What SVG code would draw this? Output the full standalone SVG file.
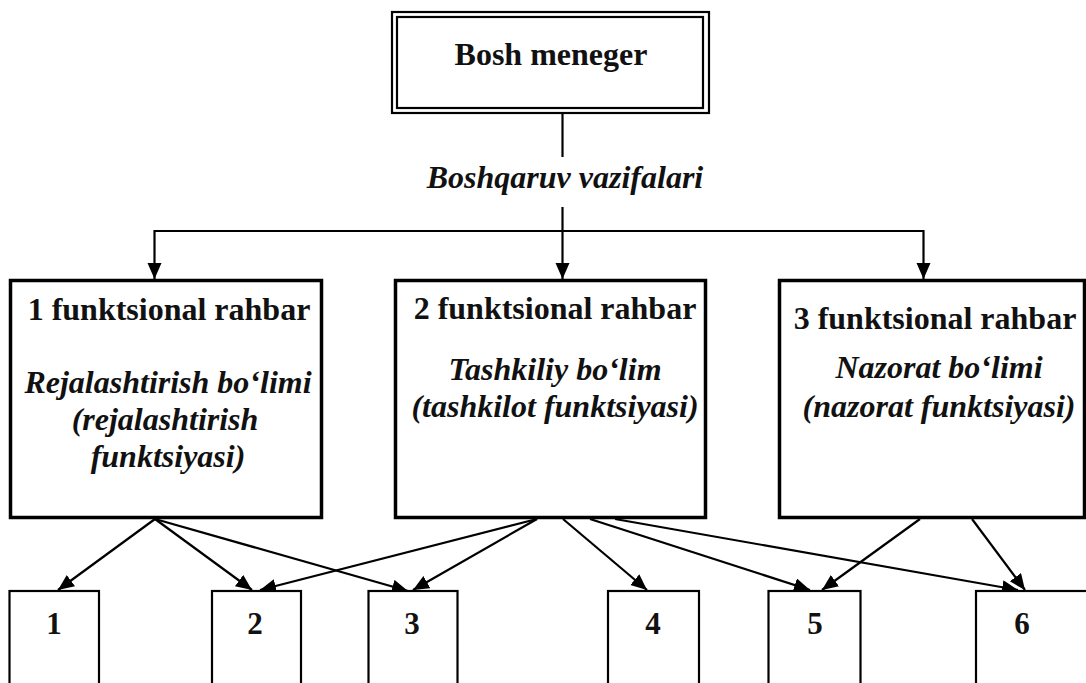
<svg xmlns="http://www.w3.org/2000/svg" width="1086" height="683" viewBox="0 0 1086 683">
<style>
text{font-family:"Liberation Serif","Times New Roman",serif;fill:#111;text-anchor:middle}
.b{font-weight:bold;font-size:32px}
.bi{font-weight:bold;font-style:italic;font-size:32px}
.n{font-weight:bold;font-size:31px}
.box{fill:#fff;stroke:#000;stroke-width:3.5}
.sm{fill:#fff;stroke:#000;stroke-width:2.2}
.dbl{fill:none;stroke:#000;stroke-width:2.2}
.c{fill:none;stroke:#000;stroke-width:2.2}
.a{marker-end:url(#ah)}
</style>
<defs>
<marker id="ah" markerUnits="userSpaceOnUse" markerWidth="18" markerHeight="16" refX="16" refY="7" orient="auto">
<path d="M0,0 L16,7 L0,14 z" fill="#000"/>
</marker>
</defs>
<rect width="1086" height="683" fill="#fff"/>
<g id="connectors">
<line class="c" x1="562.5" y1="113" x2="562.5" y2="157"/>
<line class="c a" x1="562.5" y1="207" x2="562.5" y2="279"/>
<line class="c" x1="154.5" y1="231" x2="923.5" y2="231"/>
<line class="c a" x1="154.5" y1="230" x2="154.5" y2="279"/>
<line class="c a" x1="923.5" y1="230" x2="923.5" y2="279"/>
<line class="c a" x1="155" y1="519" x2="58" y2="590"/>
<line class="c a" x1="155" y1="519" x2="252" y2="590"/>
<line class="c a" x1="155" y1="519" x2="408" y2="591"/>
<line class="c a" x1="537" y1="519" x2="260" y2="590"/>
<line class="c a" x1="537" y1="519" x2="413" y2="590"/>
<line class="c a" x1="563" y1="519" x2="647" y2="590"/>
<line class="c a" x1="590" y1="519" x2="810" y2="590"/>
<line class="c a" x1="615" y1="519" x2="1018" y2="590"/>
<line class="c a" x1="920" y1="519" x2="822" y2="590"/>
<line class="c a" x1="972" y1="519" x2="1025" y2="590"/>
</g>
<g id="bosh">
<rect x="392" y="12" width="317" height="101" fill="#fff" class="dbl"/>
<rect x="397" y="17" width="306" height="91" class="dbl"/>
<text class="b" x="551" y="65">Bosh meneger</text>
</g>
<g id="label">
<text class="bi" x="565" y="188">Boshqaruv vazifalari</text>
</g>
<g id="f1">
<rect class="box" x="10.5" y="280.5" width="311" height="237"/>
<text class="b" x="169" y="320">1 funktsional rahbar</text>
<text class="bi" x="168" y="393">Rejalashtirish bo‘limi</text>
<text class="bi" x="165" y="430">(rejalashtirish</text>
<text class="bi" x="168" y="467">funktsiyasi)</text>
</g>
<g id="f2">
<rect class="box" x="395.5" y="280.5" width="310" height="237"/>
<text class="b" x="555" y="319">2 funktsional rahbar</text>
<text class="bi" x="555" y="380">Tashkiliy bo‘lim</text>
<text class="bi" x="555" y="417">(tashkilot funktsiyasi)</text>
</g>
<g id="f3">
<rect class="box" x="779.5" y="280.5" width="305" height="237"/>
<text class="b" x="935" y="329">3 funktsional rahbar</text>
<text class="bi" x="939" y="378">Nazorat bo‘limi</text>
<text class="bi" x="939" y="417">(nazorat funktsiyasi)</text>
</g>
<g id="n1"><rect class="sm" x="9.5" y="591" width="89.5" height="100"/><text class="n" x="54" y="634">1</text></g>
<g id="n2"><rect class="sm" x="212" y="591" width="89" height="100"/><text class="n" x="255" y="634">2</text></g>
<g id="n3"><rect class="sm" x="368.5" y="591" width="89" height="100"/><text class="n" x="412" y="634">3</text></g>
<g id="n4"><rect class="sm" x="608" y="591" width="91" height="100"/><text class="n" x="653" y="634">4</text></g>
<g id="n5"><rect class="sm" x="768.5" y="591" width="92" height="100"/><text class="n" x="815" y="634">5</text></g>
<g id="n6"><rect class="sm" x="976" y="591" width="120" height="100"/><text class="n" x="1022" y="634">6</text></g>
</svg>
